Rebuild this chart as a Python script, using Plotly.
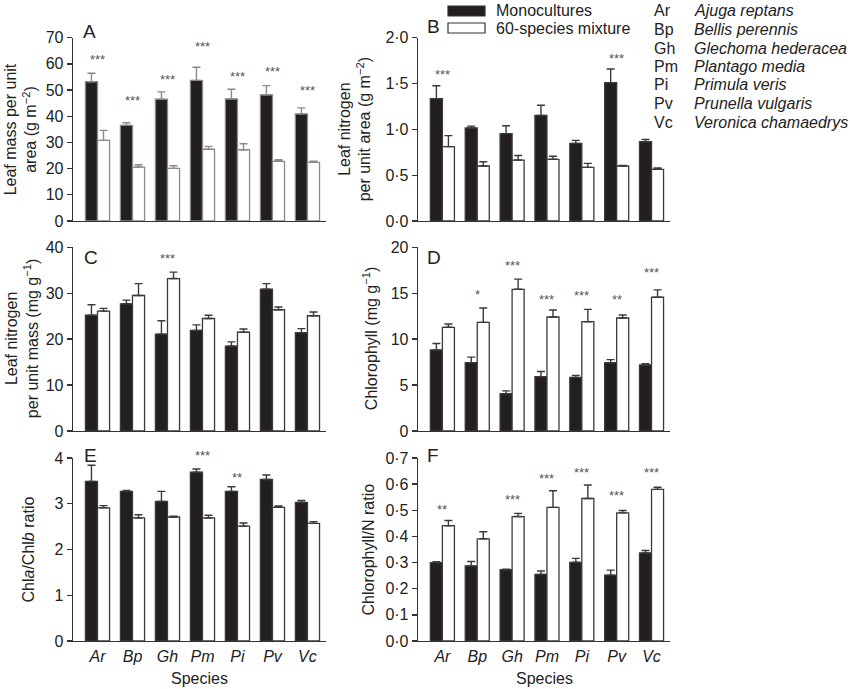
import plotly.graph_objects as go

# ---------------- data ----------------
species = ["Ar", "Bp", "Gh", "Pm", "Pi", "Pv", "Vc"]
species_names = ["Ajuga reptans", "Bellis perennis", "Glechoma hederacea",
                 "Plantago media", "Primula veris", "Prunella vulgaris",
                 "Veronica chamaedrys"]
series_names = ["Monocultures", "60-species mixture"]

# A: leaf mass per unit area (g m-2)
lma_mono = [53.2, 36.5, 46.5, 53.7, 46.6, 48.2, 40.9]
lma_mono_se = [3.2, 1.0, 2.8, 5.0, 3.7, 3.5, 2.3]
lma_mix = [30.8, 20.6, 20.1, 27.4, 27.2, 22.8, 22.4]
lma_mix_se = [3.8, 0.9, 1.0, 1.1, 2.3, 0.6, 0.4]
lma_sig = ["***", "***", "***", "***", "***", "***", "***"]
lma_sig_y = [62.7, 47.1, 55.2, 67.8, 56.4, 58.4, 51.0]

# B: leaf nitrogen per unit area (g m-2)
narea_mono = [1.335, 1.015, 0.953, 1.153, 0.847, 1.509, 0.865]
narea_mono_se = [0.14, 0.02, 0.087, 0.11, 0.033, 0.15, 0.025]
narea_mix = [0.811, 0.60, 0.665, 0.673, 0.585, 0.60, 0.564]
narea_mix_se = [0.12, 0.047, 0.05, 0.033, 0.044, 0.005, 0.014]
narea_sig = ["***", "", "", "", "", "***", ""]
narea_sig_y = [1.63, None, None, None, None, 1.81, None]

# C: leaf nitrogen per unit mass (mg g-1)
nmass_mono = [25.2, 27.7, 21.1, 21.9, 18.5, 30.9, 21.4]
nmass_mono_se = [2.3, 0.8, 2.9, 1.2, 0.9, 1.2, 0.9]
nmass_mix = [26.1, 29.5, 33.2, 24.5, 21.5, 26.4, 25.1]
nmass_mix_se = [0.6, 2.6, 1.4, 0.7, 0.7, 0.6, 0.8]
nmass_sig = ["", "", "***", "", "", "", ""]
nmass_sig_y = [None, None, 38.3, None, None, None, None]

# D: chlorophyll (mg g-1)
chl_mono = [8.82, 7.44, 4.07, 5.92, 5.84, 7.44, 7.19]
chl_mono_se = [0.7, 0.6, 0.3, 0.55, 0.22, 0.33, 0.15]
chl_mix = [11.29, 11.83, 15.43, 12.41, 11.9, 12.3, 14.56]
chl_mix_se = [0.36, 1.56, 1.1, 0.76, 1.34, 0.33, 0.8]
chl_sig = ["", "*", "***", "***", "***", "**", "***"]
chl_sig_y = [None, 15.17, 18.3, 14.66, 15.1, 14.66, 17.6]

# E: Chla/Chlb ratio
chlab_mono = [3.49, 3.27, 3.05, 3.69, 3.27, 3.53, 3.03]
chlab_mono_se = [0.35, 0.02, 0.22, 0.07, 0.10, 0.10, 0.04]
chlab_mix = [2.91, 2.69, 2.71, 2.69, 2.51, 2.92, 2.57]
chlab_mix_se = [0.05, 0.07, 0.02, 0.06, 0.07, 0.03, 0.04]
chlab_sig = ["", "", "", "***", "**", "", ""]
chlab_sig_y = [None, None, None, 4.12, 3.64, None, None]

# F: chlorophyll/N ratio
chln_mono = [0.300, 0.287, 0.273, 0.255, 0.301, 0.252, 0.337]
chln_mono_se = [0.003, 0.017, 0.002, 0.013, 0.015, 0.019, 0.009]
chln_mix = [0.441, 0.391, 0.476, 0.511, 0.545, 0.490, 0.580]
chln_mix_se = [0.020, 0.027, 0.012, 0.064, 0.052, 0.009, 0.008]
chln_sig = ["**", "", "***", "***", "***", "***", "***"]
chln_sig_y = [0.516, None, 0.553, 0.632, 0.655, 0.568, 0.655]

# tick labels
ticks_a = [0, 10, 20, 30, 40, 50, 60, 70]
ticks_b = [0.0, 0.5, 1.0, 1.5, 2.0]
ticklabels_b = ["0·0", "0·5", "1·0", "1·5", "2·0"]
ticks_c = [0, 10, 20, 30, 40]
ticks_d = [0, 5, 10, 15, 20]
ticks_e = [0, 1, 2, 3, 4]
ticks_f = [0.0, 0.1, 0.2, 0.3, 0.4, 0.5, 0.6, 0.7]
ticklabels_f = ["0·0", "0·1", "0·2", "0·3", "0·4", "0·5", "0·6", "0·7"]

# ---------------- layout helpers ----------------
W, H = 850, 689
FONT = "Liberation Sans, Arial, Helvetica, sans-serif"
TXT = "#222222"
AX = "#333333"
BLACK = "#231f20"


def px(x):
    return x / W


def py(y):
    return 1 - y / H


cols = [(73, 326), (418, 670)]
rows = [(37.7, 221), (247.3, 431), (458, 641)]

panels = [
    dict(letter="A", mono=lma_mono, mono_se=lma_mono_se, mix=lma_mix, mix_se=lma_mix_se,
         sig=lma_sig, sig_y=lma_sig_y, tv=ticks_a, tt=[str(t) for t in ticks_a], rng=[0, 70],
         title="Leaf mass per unit<br>area (g m<sup>−2</sup>)", tx=21, edge="#8a8a8a",
         lpos=(81, 31)),
    dict(letter="B", mono=narea_mono, mono_se=narea_mono_se, mix=narea_mix, mix_se=narea_mix_se,
         sig=narea_sig, sig_y=narea_sig_y, tv=ticks_b, tt=ticklabels_b, rng=[0, 2.0],
         title="Leaf nitrogen<br>per unit area (g m<sup>−2</sup>)", tx=355, edge="#3a3a3a",
         lpos=(425, 27)),
    dict(letter="C", mono=nmass_mono, mono_se=nmass_mono_se, mix=nmass_mix, mix_se=nmass_mix_se,
         sig=nmass_sig, sig_y=nmass_sig_y, tv=ticks_c, tt=[str(t) for t in ticks_c], rng=[0, 40],
         title="Leaf nitrogen<br>per unit mass (mg g<sup>−1</sup>)", tx=22, edge="#3a3a3a",
         lpos=(82, 257)),
    dict(letter="D", mono=chl_mono, mono_se=chl_mono_se, mix=chl_mix, mix_se=chl_mix_se,
         sig=chl_sig, sig_y=chl_sig_y, tv=ticks_d, tt=[str(t) for t in ticks_d], rng=[0, 20],
         title="Chlorophyll (mg g<sup>−1</sup>)", tx=370, edge="#3a3a3a",
         lpos=(425, 257)),
    dict(letter="E", mono=chlab_mono, mono_se=chlab_mono_se, mix=chlab_mix, mix_se=chlab_mix_se,
         sig=chlab_sig, sig_y=chlab_sig_y, tv=ticks_e, tt=[str(t) for t in ticks_e], rng=[0, 4],
         title="Chl<i>a</i>/Chl<i>b</i> ratio", tx=28, edge="#3a3a3a",
         lpos=(82, 455)),
    dict(letter="F", mono=chln_mono, mono_se=chln_mono_se, mix=chln_mix, mix_se=chln_mix_se,
         sig=chln_sig, sig_y=chln_sig_y, tv=ticks_f, tt=ticklabels_f, rng=[0, 0.7],
         title="Chlorophyll/N ratio", tx=368, edge="#3a3a3a",
         lpos=(425, 455)),
]

fig = go.Figure()
annotations = []
shapes = []
xpos = list(range(len(species)))

for i, p in enumerate(panels):
    r, c = divmod(i, 2)
    n = "" if i == 0 else str(i + 1)
    xa, ya = "x" + n, "y" + n
    edge = p["edge"]
    zeros = [0] * len(species)
    fig.add_trace(go.Bar(
        x=xpos, y=p["mono"], name=series_names[0], xaxis=xa, yaxis=ya,
        marker=dict(color=BLACK, line=dict(color=edge, width=1.3)),
        error_y=dict(type="data", symmetric=False, array=p["mono_se"], arrayminus=zeros,
                     color=edge, thickness=1.4, width=4),
        offsetgroup="m", showlegend=False, hoverinfo="skip"))
    fig.add_trace(go.Bar(
        x=xpos, y=p["mix"], name=series_names[1], xaxis=xa, yaxis=ya,
        marker=dict(color="white", line=dict(color=edge, width=1.3)),
        error_y=dict(type="data", symmetric=False, array=p["mix_se"], arrayminus=zeros,
                     color=edge, thickness=1.4, width=4),
        offsetgroup="w", showlegend=False, hoverinfo="skip"))

    x0, x1 = cols[c]
    y0, y1 = rows[r]
    bottom = (r == 2)
    dom = [py(y1), py(y0)]
    fig.layout[("xaxis" + n)] = dict(
        domain=[px(x0), px(x1)], anchor=ya, range=[-0.7, 6.53],
        showline=True, linecolor=AX, linewidth=1.3, ticks="",
        tickvals=xpos, ticktext=["<i>%s</i>" % s for s in species],
        showticklabels=bottom, showgrid=False, zeroline=False, automargin=False,
        tickfont=dict(size=16, color=TXT, family=FONT), fixedrange=True)
    fig.layout[("yaxis" + n)] = dict(
        domain=dom, anchor=xa, range=p["rng"],
        showline=True, linecolor=AX, linewidth=1.3, ticks="outside", ticklen=5,
        tickwidth=1.3, tickcolor=AX, tickvals=p["tv"], ticktext=p["tt"],
        showgrid=False, zeroline=False, automargin=False,
        tickfont=dict(size=16, color=TXT, family=FONT), fixedrange=True)

    # significance stars (y mapped through the axis range so labels above the
    # top of the axis are still shown)
    r0, r1 = p["rng"]
    for k, (s, sy) in enumerate(zip(p["sig"], p["sig_y"])):
        if s:
            yp = dom[0] + (sy - r0) / (r1 - r0) * (dom[1] - dom[0])
            annotations.append(dict(x=k, y=yp, xref=xa, yref="paper", text=s, showarrow=False,
                                    font=dict(size=13, color="#555555", family=FONT),
                                    xanchor="center", yanchor="middle", yshift=-3))
    # axis title
    annotations.append(dict(x=px(p["tx"]), y=py((y0 + y1) / 2), xref="paper", yref="paper",
                            text=p["title"], textangle=-90, showarrow=False,
                            font=dict(size=16, color=TXT, family=FONT),
                            xanchor="center", yanchor="middle", align="center"))
    # panel letter
    annotations.append(dict(x=px(p["lpos"][0]), y=py(p["lpos"][1]), xref="paper", yref="paper",
                            text=p["letter"], showarrow=False,
                            font=dict(size=19, color=TXT, family=FONT),
                            xanchor="left", yanchor="middle"))
    if bottom:
        annotations.append(dict(x=px((x0 + x1) / 2), y=py(678), xref="paper", yref="paper",
                                text="Species", showarrow=False,
                                font=dict(size=16, color=TXT, family=FONT),
                                xanchor="center", yanchor="middle"))

# legend (series)
legend_rows = [(BLACK, series_names[0], 11), ("white", series_names[1], 28)]
for fill, label, yc in legend_rows:
    shapes.append(dict(type="rect", xref="paper", yref="paper",
                       x0=px(448), x1=px(485), y0=py(yc - 5), y1=py(yc + 5),
                       fillcolor=fill, line=dict(color="#333333", width=1.2)))
    annotations.append(dict(x=px(494), y=py(yc), xref="paper", yref="paper", text=label,
                            showarrow=False, xanchor="left", yanchor="middle",
                            font=dict(size=16, color=TXT, family=FONT)))

# species key
key_y = [11, 29.5, 48, 66.5, 85, 103.5, 122]
for ab, nm, yc in zip(species, species_names, key_y):
    annotations.append(dict(x=px(652), y=py(yc), xref="paper", yref="paper", text=ab,
                            showarrow=False, xanchor="left", yanchor="middle",
                            font=dict(size=16, color=TXT, family=FONT)))
    annotations.append(dict(x=px(692), y=py(yc), xref="paper", yref="paper",
                            text="<i>%s</i>" % nm, showarrow=False, xanchor="left",
                            yanchor="middle", font=dict(size=16, color=TXT, family=FONT)))

fig.update_layout(
    width=W, height=H, margin=dict(l=0, r=0, t=0, b=0, autoexpand=False),
    paper_bgcolor="white", plot_bgcolor="white",
    barmode="group", bargap=0.31, bargroupgap=0,
    showlegend=False, annotations=annotations, shapes=shapes,
    font=dict(family=FONT, color=TXT, size=16),
)

fig.write_html("out.html",
               config={"displayModeBar": False, "staticPlot": True},
               post_script="document.body.style.margin='0';document.body.style.overflow='hidden';")
